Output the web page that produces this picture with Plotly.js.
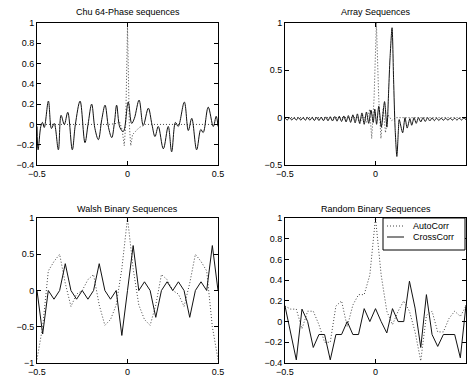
<!DOCTYPE html>
<html>
<head>
<meta charset="utf-8">
<script src="https://cdn.plot.ly/plotly-3.0.1.min.js"></script>
<style>html,body{margin:0;padding:0;background:#fff;}#chart{width:470px;height:377px;}</style>
</head>
<body>
<div id="chart"></div>
<script>
// ---------- Data ----------
const titles = ["Chu 64-Phase sequences", "Array Sequences", "Walsh Binary Sequences", "Random Binary Sequences"];
const legendNames = ["AutoCorr", "CrossCorr"];

// Chu 64-phase
const chuX = [-0.5, -0.494, -0.479, -0.470, -0.460, -0.437, -0.420, -0.405, -0.382, -0.367, -0.349, -0.330, -0.305, -0.288, -0.262, -0.235, -0.218, -0.198, -0.180, -0.161, -0.142, -0.124, -0.105, -0.087, -0.072, -0.060, -0.042, -0.023, 0.004, 0.023, 0.038, 0.064, 0.087, 0.115, 0.135, 0.152, 0.170, 0.198, 0.225, 0.244, 0.265, 0.280, 0.314, 0.336, 0.355, 0.382, 0.405, 0.418, 0.446, 0.474, 0.490, 0.5];
const chuCross = [-0.02, -0.25, -0.02, 0.02, -0.03, 0.23, -0.04, 0.01, -0.25, 0.09, 0.0, 0.12, -0.25, 0.0, 0.23, -0.18, 0.0, 0.2, -0.04, -0.15, 0.05, 0.19, -0.03, -0.13, 0.02, 0.19, -0.03, -0.07, 0.22, 0.01, 0.06, 0.24, -0.01, 0.16, 0.0, -0.12, -0.02, -0.24, -0.02, -0.27, 0.02, -0.02, 0.22, -0.06, 0.06, -0.25, -0.05, -0.08, 0.17, -0.02, 0.08, -0.02];
const chuAutoX = [-0.5, -0.1, -0.06, -0.045, -0.03, -0.018, -0.01, 0, 0.01, 0.018, 0.028, 0.045, 0.065, 0.1, 0.5];
const chuAuto = [0, 0, 0.01, 0.03, -0.05, -0.21, 0.0, 0.97, 0.0, -0.21, -0.1, -0.07, -0.03, 0, 0];

// Array
const arrX = [-0.5, -0.4875, -0.475, -0.4625, -0.45, -0.4375, -0.425, -0.4125, -0.4, -0.3875, -0.375, -0.3625, -0.35, -0.3375, -0.325, -0.3125, -0.3, -0.2875, -0.275, -0.2625, -0.25, -0.2375, -0.225, -0.2125, -0.2, -0.1875, -0.175, -0.1625, -0.15, -0.1375, -0.125, -0.1125, -0.1, -0.0875, -0.075, -0.0625, -0.05, -0.0375, -0.025, -0.0125, -0.004, 0.006, 0.018, 0.032, 0.05, 0.063, 0.073, 0.08, 0.0915, 0.1, 0.108, 0.118, 0.126, 0.131, 0.15, 0.163, 0.175, 0.19, 0.2, 0.213, 0.225, 0.2375, 0.25, 0.2625, 0.275, 0.2875, 0.3, 0.3125, 0.325, 0.3375, 0.35, 0.3625, 0.375, 0.3875, 0.4, 0.4125, 0.425, 0.4375, 0.45, 0.4625, 0.475, 0.4875, 0.5];
const arrCross = [-0.005, -0.025, 0.0, -0.025, 0.0, -0.025, 0.0, -0.027, 0.002, -0.027, 0.002, -0.028, 0.004, -0.03, 0.005, -0.03, 0.006, -0.032, 0.008, -0.033, 0.01, -0.035, 0.012, -0.037, 0.015, -0.04, 0.018, -0.045, 0.022, -0.05, 0.03, -0.055, 0.04, -0.06, 0.05, -0.07, 0.06, -0.06, 0.08, -0.05, 0.09, -0.07, 0.12, -0.1, 0.17, -0.1, 0.3, 0.62, 0.95, 0.4, -0.1, -0.41, -0.15, -0.02, -0.16, 0.0, -0.11, -0.01, -0.08, 0.0, -0.06, 0.0, -0.045, 0.0, -0.04, 0.0, -0.035, -0.002, -0.032, -0.004, -0.03, -0.005, -0.028, -0.005, -0.027, -0.006, -0.026, -0.006, -0.025, -0.006, -0.025, -0.006, -0.02];
const arrAutoX = [-0.5, -0.1, -0.086, -0.07, -0.05, -0.032, -0.021, -0.008, 0.005, 0.018, 0.03, 0.043, 0.055, 0.07, 0.09, 0.11, 0.5];
const arrAuto = [0, 0, -0.06, 0.03, -0.05, 0.09, -0.22, 0.2, 1.0, 0.2, -0.22, 0.1, -0.16, 0.03, -0.03, 0, 0];

// Binary sequences (lags)
const lagX = [-0.5, -0.46875, -0.4375, -0.40625, -0.375, -0.34375, -0.3125, -0.28125, -0.25, -0.21875, -0.1875, -0.15625, -0.125, -0.09375, -0.0625, -0.03125, 0, 0.03125, 0.0625, 0.09375, 0.125, 0.15625, 0.1875, 0.21875, 0.25, 0.28125, 0.3125, 0.34375, 0.375, 0.40625, 0.4375, 0.46875, 0.5];
const walshAuto = [-0.95, -0.5, 0.27, 0.4, 0.5, 0.1, -0.22, -0.05, 0.0, 0.15, 0.22, -0.2, -0.48, -0.4, -0.2, 0.3, 1, 0.3, -0.2, -0.4, -0.48, -0.2, 0.22, 0.15, 0.0, -0.05, -0.22, 0.1, 0.5, 0.4, 0.27, -0.5, -0.95];
const walshCross = [0, -0.6, 0, -0.12, 0, 0.37, 0, -0.12, 0, -0.12, 0, 0.37, 0, -0.12, 0, -0.62, 0, 0.62, 0, 0.12, 0, -0.37, 0, 0.12, 0, 0.12, 0, -0.37, 0, 0.12, 0, 0.62, 0];
const randAuto = [0.15, 0.12, 0.12, -0.07, 0.1, 0.1, -0.03, -0.2, -0.2, 0.15, 0.2, -0.05, 0.16, 0.26, 0.26, 0.45, 1, 0.45, 0.1, -0.03, 0.1, 0.2, 0.1, -0.1, -0.38, 0.06, 0.1, -0.1, -0.1, 0.03, 0.1, 0.05, 0.15];
const randCross = [0.15, -0.1, -0.37, 0.12, 0.0, -0.25, -0.125, -0.125, -0.37, -0.125, -0.125, 0, -0.125, -0.125, 0.125, 0, 0.125, 0, -0.11, 0.125, 0, 0, 0.39, 0.13, -0.25, 0.26, -0.125, -0.24, -0.125, -0.125, -0.125, -0.35, 0.16];

// Axis ticks
const xTicks = [-0.5, 0, 0.5];
const yTicks1 = [-0.4, -0.2, 0, 0.2, 0.4, 0.6, 0.8, 1];
const yTicks2 = [-0.5, 0, 0.5, 1];
const yTicks3 = [-1, -0.5, 0, 0.5, 1];
const yTicks4 = [-0.4, -0.2, 0, 0.2, 0.4, 0.6, 0.8, 1];

// ---------- Styles ----------
const W = 470, H = 377;
const FONT = 'Liberation Sans, Arial, Helvetica, sans-serif';
const dotLine = {color: '#444', width: 1, dash: '1px,2px'};
const solidLine = {color: '#111', width: 1};

function ax(domain, range, tickvals, anchor) {
  return {
    domain: domain, range: range, tickvals: tickvals, anchor: anchor,
    showline: true, linecolor: '#000', linewidth: 1, mirror: 'ticks',
    ticks: 'inside', ticklen: 4, tickcolor: '#000', tickwidth: 1,
    showgrid: false, zeroline: false, fixedrange: true,
    tickfont: {size: 9, family: FONT, color: '#000'}
  };
}

const colL = [37 / W, 218 / W], colR = [285 / W, 466 / W];
const rowT = [1 - 165 / H, 1 - 23 / H], rowB = [1 - 363 / H, 1 - 218 / H];

const traces = [
  {x: chuAutoX, y: chuAuto, xaxis: 'x', yaxis: 'y', mode: 'lines', line: dotLine},
  {x: chuX, y: chuCross, xaxis: 'x', yaxis: 'y', mode: 'lines', line: Object.assign({shape: 'spline', smoothing: 1}, solidLine)},
  {x: arrAutoX, y: arrAuto, xaxis: 'x2', yaxis: 'y2', mode: 'lines', line: dotLine},
  {x: arrX, y: arrCross, xaxis: 'x2', yaxis: 'y2', mode: 'lines', line: Object.assign({shape: 'spline', smoothing: 0.7}, solidLine)},
  {x: lagX, y: walshAuto, xaxis: 'x3', yaxis: 'y3', mode: 'lines', line: dotLine},
  {x: lagX, y: walshCross, xaxis: 'x3', yaxis: 'y3', mode: 'lines', line: solidLine},
  {x: lagX, y: randAuto, xaxis: 'x4', yaxis: 'y4', mode: 'lines', line: dotLine, name: legendNames[0]},
  {x: lagX, y: randCross, xaxis: 'x4', yaxis: 'y4', mode: 'lines', line: solidLine, name: legendNames[1]}
];

function titleAnn(text, xdom, ypx) {
  return {text: text, xref: 'paper', yref: 'paper', x: (xdom[0] + xdom[1]) / 2, y: 1 - ypx / H,
          xanchor: 'center', yanchor: 'middle', showarrow: false,
          font: {size: 9, family: FONT, color: '#000'}};
}

// compact legend box (paper coordinates from pixel positions)
const px = v => v / W, py = v => 1 - v / H;
const legendShapes = [
  {type: 'rect', xref: 'paper', yref: 'paper', x0: px(383), x1: px(465), y0: py(250), y1: py(218),
   line: {color: '#000', width: 1}, fillcolor: '#fff', layer: 'above'},
  {type: 'line', xref: 'paper', yref: 'paper', x0: px(387), x1: px(404), y0: py(226), y1: py(226),
   line: dotLine, layer: 'above'},
  {type: 'line', xref: 'paper', yref: 'paper', x0: px(387), x1: px(404), y0: py(237), y1: py(237),
   line: solidLine, layer: 'above'}
];
const legendAnns = [
  {text: legendNames[0], xref: 'paper', yref: 'paper', x: px(411), y: py(226), xanchor: 'left', yanchor: 'middle',
   showarrow: false, font: {size: 9, family: FONT, color: '#000'}},
  {text: legendNames[1], xref: 'paper', yref: 'paper', x: px(411), y: py(237), xanchor: 'left', yanchor: 'middle',
   showarrow: false, font: {size: 9, family: FONT, color: '#000'}}
];

const layout = {
  width: W, height: H,
  margin: {l: 0, r: 0, t: 0, b: 0},
  paper_bgcolor: '#fff', plot_bgcolor: '#fff',
  showlegend: false,
  xaxis: ax(colL, [-0.5, 0.5], xTicks, 'y'),
  yaxis: ax(rowT, [-0.4, 1], yTicks1, 'x'),
  xaxis2: ax(colR, [-0.5, 0.5], xTicks, 'y2'),
  yaxis2: ax(rowT, [-0.5, 1], yTicks2, 'x2'),
  xaxis3: ax(colL, [-0.5, 0.5], xTicks, 'y3'),
  yaxis3: ax(rowB, [-1, 1], yTicks3, 'x3'),
  xaxis4: ax(colR, [-0.5, 0.5], xTicks, 'y4'),
  yaxis4: ax(rowB, [-0.4, 1], yTicks4, 'x4'),
  shapes: legendShapes,
  annotations: [
    titleAnn(titles[0], colL, 12),
    titleAnn(titles[1], colR, 12),
    titleAnn(titles[2], colL, 209),
    titleAnn(titles[3], colR, 209)
  ].concat(legendAnns)
};

Plotly.newPlot('chart', traces, layout, {staticPlot: true, displayModeBar: false});
</script>
</body>
</html>
